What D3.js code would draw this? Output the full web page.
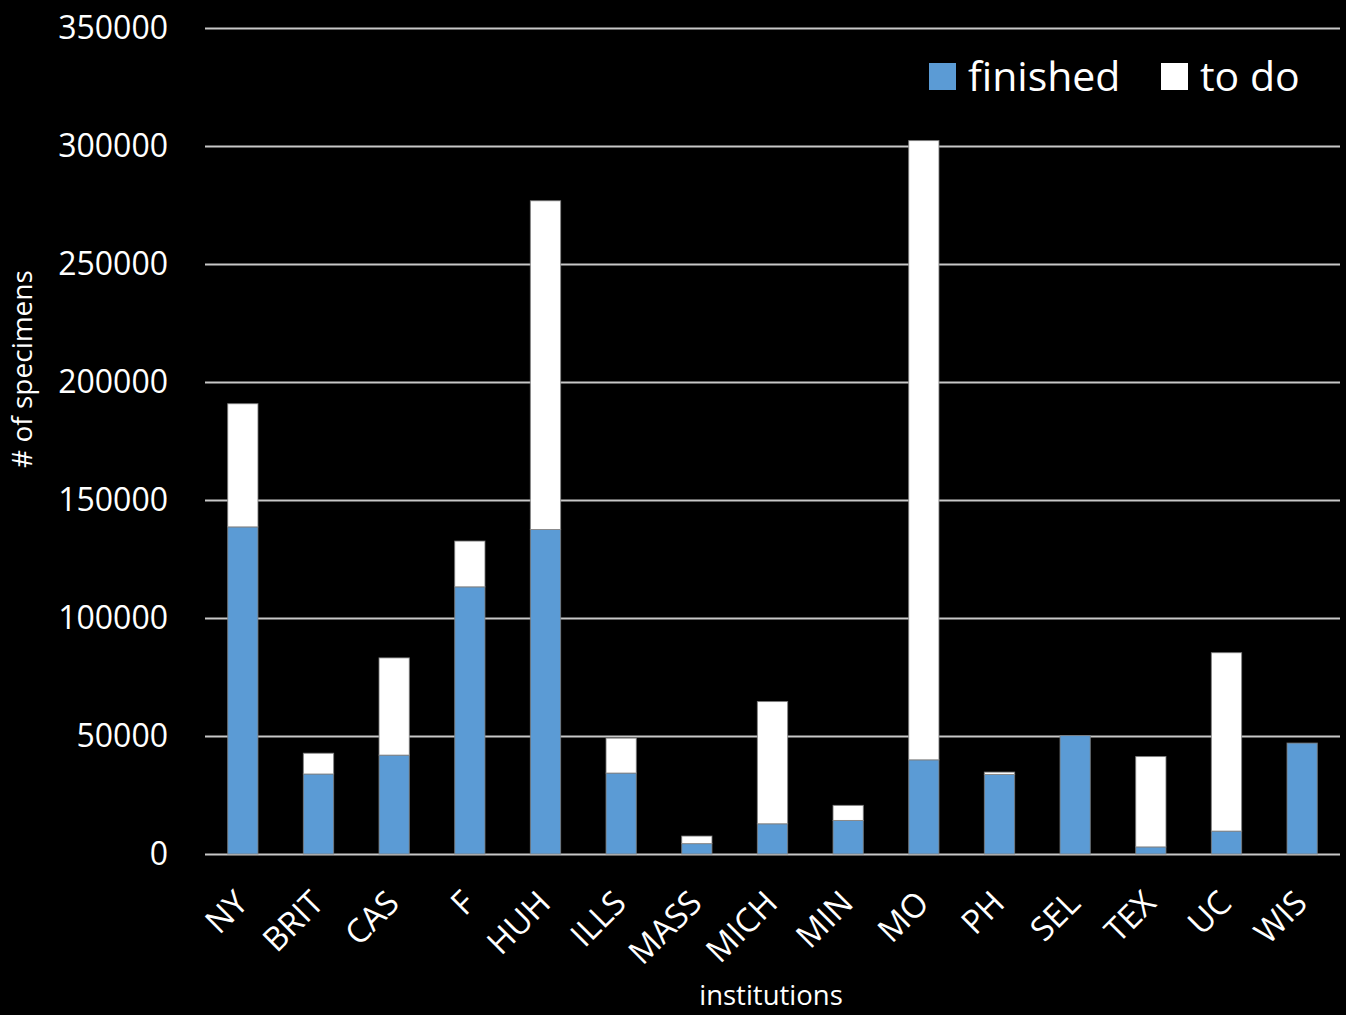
<!DOCTYPE html>
<html>
<head>
<meta charset="utf-8">
<script src="https://cdn.jsdelivr.net/npm/d3@7"></script>
<style>
  body { margin: 0; background: #000; }
  svg { display: block; background: #000; font-family: "Open Sans", sans-serif; }
</style>
</head>
<body>
<svg id="svg" width="1346" height="1015"></svg>
<script>
const WIDTH = 1346
const HEIGHT = 1015
const LEFT = 205
const RIGHT = 1340
const TOP = 28
const BOTTOM = 854

const institutions = ['NY', 'BRIT', 'CAS', 'F', 'HUH', 'ILLS', 'MASS', 'MICH', 'MIN', 'MO', 'PH', 'SEL', 'TEX', 'UC', 'WIS']
const finished = [138600, 33900, 41900, 113200, 137500, 34300, 4400, 12800, 14200, 39900, 33700, 50200, 3000, 9700, 47000]
const toDo = [52200, 8800, 41200, 19400, 139300, 14800, 3200, 51800, 6400, 262400, 1000, 0, 38300, 75600, 0]
const yTicks = [0, 50000, 100000, 150000, 200000, 250000, 300000, 350000]
const seriesNames = ['finished', 'to do']
const seriesColors = ['#5b9bd5', '#ffffff']

const rows = institutions.map((name, i) => ({ name, finished: finished[i], todo: toDo[i] }))
const stack = d3.stack().keys(['finished', 'todo'])
const layers = stack(rows)

const x = d3.scaleBand()
  .domain(institutions)
  .range([LEFT, RIGHT])
  .paddingInner(0.6)
  .paddingOuter(0.3)

const y = d3.scaleLinear()
  .domain([0, 350000])
  .range([BOTTOM, TOP])

const SVG = d3.select('#svg')

// gridlines
SVG.append('g')
  .attr('transform', `translate(${LEFT}, 0)`)
  .call(d3.axisLeft(y).tickValues(yTicks).tickSize(-(RIGHT - LEFT)).tickFormat(''))
  .call(g => g.select('.domain').remove())
  .call(g => g.selectAll('line').attr('stroke', '#c8c8c8').attr('stroke-width', 2))

// y tick labels
SVG.append('g')
  .attr('transform', 'translate(168, 0)')
  .call(d3.axisLeft(y).tickValues(yTicks).tickSize(0).tickPadding(0).tickFormat(d3.format('d')))
  .call(g => g.select('.domain').remove())
  .call(g => g.selectAll('text')
    .attr('fill', '#fff')
    .attr('font-size', 32)
    .attr('font-family', '"Open Sans", sans-serif'))

// bars
SVG.append('g')
  .selectAll('g')
  .data(layers)
  .enter()
  .append('g')
  .attr('fill', (d, i) => seriesColors[i])
  .selectAll('rect')
  .data(d => d)
  .enter()
  .append('rect')
  .attr('x', d => x(d.data.name))
  .attr('width', x.bandwidth())
  .attr('y', d => y(d[1]))
  .attr('height', d => y(d[0]) - y(d[1]))
  .attr('stroke', 'rgba(128,128,128,0.8)')
  .attr('stroke-width', 1)

// x labels
SVG.append('g')
  .selectAll('text')
  .data(institutions)
  .enter()
  .append('text')
  .text(d => d)
  .attr('transform', d => `translate(${x(d) + x.bandwidth() / 2 + 7}, ${BOTTOM + 51}) rotate(-45)`)
  .attr('text-anchor', 'end')
  .attr('fill', '#fff')
  .attr('font-size', 33)

// axis titles
SVG.append('text')
  .text('institutions')
  .attr('x', 771)
  .attr('y', 1005)
  .attr('text-anchor', 'middle')
  .attr('fill', '#fff')
  .attr('font-size', 27.5)

SVG.append('text')
  .text('# of specimens')
  .attr('transform', 'translate(32, 369) rotate(-90)')
  .attr('text-anchor', 'middle')
  .attr('fill', '#fff')
  .attr('font-size', 28)

// legend
const legendX = [929, 1161]
const LEGEND = SVG.append('g')
  .selectAll('g')
  .data(seriesNames)
  .enter()
  .append('g')
  .attr('transform', (d, i) => `translate(${legendX[i]}, 63)`)

LEGEND.append('rect')
  .attr('width', 27)
  .attr('height', 27)
  .attr('fill', (d, i) => seriesColors[i])

LEGEND.append('text')
  .text(d => d)
  .attr('x', 39)
  .attr('y', 28)
  .attr('fill', '#fff')
  .attr('font-size', 41)
</script>
</body>
</html>
